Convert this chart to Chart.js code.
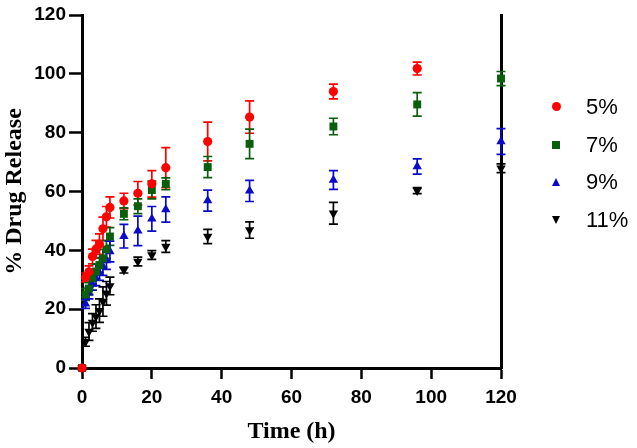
<!DOCTYPE html>
<html>
<head>
<meta charset="utf-8">
<script src="https://cdn.jsdelivr.net/npm/chart.js@4/dist/chart.umd.min.js"></script>
<style>
  body { margin: 0; background: #fff; }
  #wrap { position: relative; width: 637px; height: 448px; }
  #legend { position: absolute; left: 540px; top: 88px; font-family: "Liberation Sans", Arial, sans-serif; font-size: 22px; color: #000; }
  .item { position: relative; height: 37.7px; line-height: 37.7px; padding-left: 46px; }
  .mk { position: absolute; top: 50%; left: 16px; }
  .circle { width: 9px; height: 9px; border-radius: 50%; background: #ff0000; margin: -4.5px 0 0 -4.5px; }
  .square { width: 8px; height: 8px; background: #0b5e0b; margin: -4px 0 0 -4px; }
  .up { width: 0; height: 0; border-left: 4.5px solid transparent; border-right: 4.5px solid transparent; border-bottom: 8px solid #0a0ac8; margin: -4px 0 0 -4.5px; }
  .down { width: 0; height: 0; border-left: 4.5px solid transparent; border-right: 4.5px solid transparent; border-top: 8px solid #000; margin: -4px 0 0 -4.5px; }
</style>
</head>
<body>
<div id="wrap">
  <canvas id="myChart" width="637" height="448"></canvas>
  <div id="legend"></div>
</div>
<script>
// sampling times (h)
var times = [0, 1, 2, 3, 4, 5, 6, 7, 8, 12, 16, 20, 24, 36, 48, 72, 96, 120];

// % drug release, mean values
var rel5  = [0, 30.8, 32.7, 37.9, 40.4, 42.1, 47.3, 51.4, 54.6, 56.8, 59.4, 62.6, 68.1, 77.0, 85.3, 94.0, 101.8, null];
var rel7  = [0, 25.0, 27.0, 30.5, 32.8, 35.0, 37.3, 40.3, 44.7, 52.4, 55.0, 60.5, 62.6, 68.3, 76.2, 82.1, 89.6, 98.4];
var rel9  = [0, 21.8, 25.5, 28.5, 30.5, 32.3, 34.5, 36.5, 39.6, 44.8, 46.6, 50.7, 53.9, 56.9, 60.2, 63.9, 68.5, 77.0];
var rel11 = [0, 8.9, 12.4, 15.5, 17.5, 19.5, 22.6, 25.4, 27.9, 33.3, 36.2, 38.4, 41.3, 44.7, 46.9, 52.6, 60.3, 67.9];

// error (SD)
var err5  = [0, 1.5, 2, 2.5, 3, 3.5, 4, 3.5, 3.6, 2.6, 4, 4.5, 6.8, 6.6, 5.5, 2.5, 2.2, null];
var err7  = [0, 2, 2, 2, 2.5, 2.5, 3, 3, 3, 2, 2.5, 3, 2, 3.6, 5, 2.8, 4, 2.4];
var err9  = [0, 1.5, 2, 2, 2.5, 2.5, 3, 3, 3.5, 4, 5, 4.2, 4.3, 3.6, 3.6, 3.2, 2.6, 4.4];
var err11 = [0, 1.5, 3, 3, 4, 4, 5, 4, 3, 1, 1.5, 1.5, 2, 2.4, 2.8, 3.7, 1, 1.5];

var seriesNames = ['5%', '7%', '9%', '11%'];
var yTicks = [0, 20, 40, 60, 80, 100, 120];

function toPoints(vals){
    var pts = [];
    for (var i = 0; i < times.length; i++){
        if (vals[i] !== null) pts.push({x: times[i], y: vals[i]});
    }
    return pts;
}
function trimErr(vals, errs){
    var out = [];
    for (var i = 0; i < vals.length; i++){
        if (vals[i] !== null) out.push(errs[i]);
    }
    return out;
}

// draws vertical error bars with caps, through the chart's scales
var errorBars = {
    id: 'errorBars',
    beforeDatasetsDraw: function(chart){
        var ctx = chart.ctx;
        var xs = chart.scales.x, ys = chart.scales.y;
        chart.data.datasets.forEach(function(ds, i){
            ctx.save();
            ctx.strokeStyle = ds.borderColor;
            ctx.lineWidth = 1.7;
            ds.data.forEach(function(p, j){
                var e = ds.errors[j];
                if (!e) return;
                var px = xs.getPixelForValue(p.x);
                var top = ys.getPixelForValue(p.y + e);
                var bot = ys.getPixelForValue(p.y - e);
                ctx.beginPath();
                ctx.moveTo(px, top); ctx.lineTo(px, bot);
                ctx.moveTo(px - 4.5, top); ctx.lineTo(px + 4.5, top);
                ctx.moveTo(px - 4.5, bot); ctx.lineTo(px + 4.5, bot);
                ctx.stroke();
            });
            ctx.restore();
        });
    }
};

var colors = ['#ff0000', '#0b5e0b', '#0a0ac8', '#000000'];
var styles = ['circle', 'rect', 'triangle', 'triangle'];
var radii = [4.6, 5.6, 5.4, 5.4];
var rots = [0, 0, 0, 180];
var allVals = [rel5, rel7, rel9, rel11];
var allErrs = [err5, err7, err9, err11];

var datasets = [];
for (var k = 0; k < 4; k++){
    datasets.push({
        label: seriesNames[k],
        data: toPoints(allVals[k]),
        errors: trimErr(allVals[k], allErrs[k]),
        borderColor: colors[k],
        backgroundColor: colors[k],
        pointStyle: styles[k],
        pointRadius: radii[k],
        pointHoverRadius: radii[k],
        pointRotation: rots[k],
        pointBorderWidth: 0,
        showLine: false,
        clip: false
    });
}

var tickFont = {family: '"Liberation Sans", Arial, sans-serif', size: 19, weight: 'bold'};
var titleFont = {family: '"Liberation Serif", "Times New Roman", serif', size: 24, weight: 'bold'};

var myChart = new Chart('myChart', {
    type: 'scatter',
    data: { datasets: datasets },
    plugins: [errorBars],
    options: {
        responsive: false,
        animation: false,
        layout: { padding: { top: 15, right: 134, left: 0, bottom: 0 } },
        plugins: { legend: { display: false }, tooltip: { enabled: false } },
        scales: {
            x: {
                type: 'linear', min: 0, max: 120,
                ticks: { stepSize: 20, color: '#000', font: tickFont, padding: 7 },
                grid: { display: true, drawOnChartArea: false, tickLength: 11, tickWidth: 2.5, tickColor: '#000' },
                border: { color: '#000', width: 3 },
                title: { display: true, text: 'Time (h)', color: '#000', font: titleFont, padding: { top: 6, bottom: 2 } },
                afterFit: function(s){ s.height = 80; }
            },
            y: {
                min: 0, max: 120,
                afterBuildTicks: function(s){ s.ticks = yTicks.map(function(v){ return {value: v}; }); },
                ticks: { color: '#000', font: tickFont, padding: 3 },
                grid: { display: true, drawOnChartArea: false, tickLength: 13, tickWidth: 2.5, tickColor: '#000' },
                border: { color: '#000', width: 3 },
                title: { display: true, text: '% Drug Release', color: '#000', font: titleFont, padding: { top: 0, bottom: 6 } },
                afterFit: function(s){ s.width = 82; }
            },
            y2: {
                position: 'right', min: 0, max: 120,
                ticks: { display: false },
                grid: { display: false },
                border: { color: '#000', width: 3 },
                afterFit: function(s){ s.width = 2; }
            }
        }
    }
});

// legend
var shapes = ['circle', 'square', 'up', 'down'];
var leg = document.getElementById('legend');
for (var k = 0; k < seriesNames.length; k++){
    var item = document.createElement('div');
    item.className = 'item';
    item.innerHTML = '<span class="mk ' + shapes[k] + '"></span>' + seriesNames[k];
    leg.appendChild(item);
}
</script>
</body>
</html>
